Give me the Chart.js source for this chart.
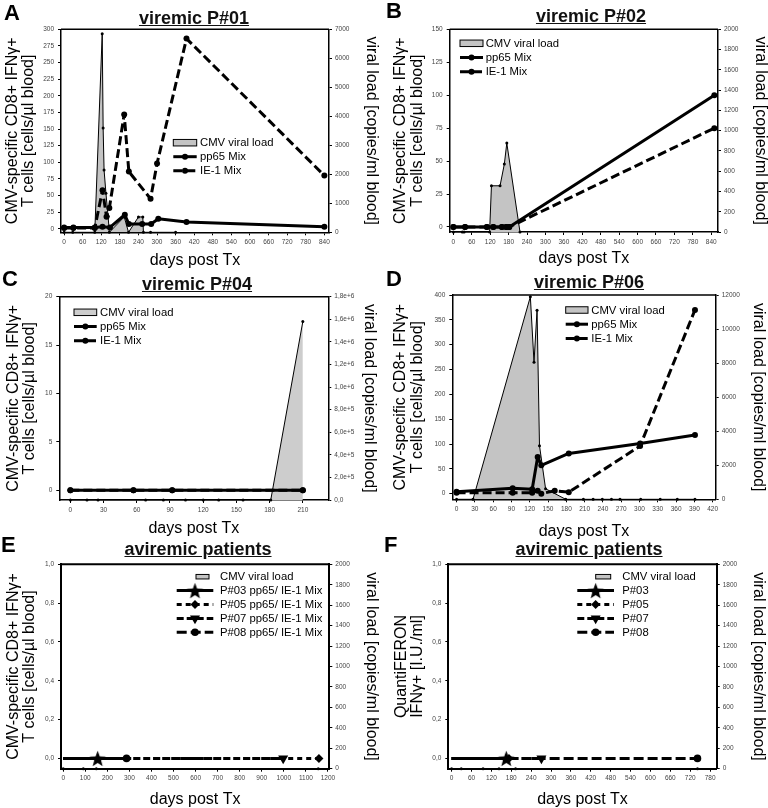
<!DOCTYPE html>
<html>
<head>
<meta charset="utf-8">
<script src="https://cdn.jsdelivr.net/npm/chart.js@4.4.1/dist/chart.umd.min.js"></script>
<style>
html, body { margin: 0; padding: 0; background: #fff; }
#fig { position: relative; width: 768px; height: 808px; overflow: hidden; font-family: 'Liberation Sans', Arial, sans-serif; }
#fig canvas { position: absolute; }
.letter { position: absolute; font-weight: bold; font-size: 22px; line-height: 22px; color: #000; }
.ttl { position: absolute; width: 240px; text-align: center; font-weight: bold; font-size: 18px; line-height: 18px; text-decoration: underline; color: #111; }
</style>
</head>
<body>
<div id="fig">
  <canvas id="cA" width="384" height="270" style="left:0;top:0"></canvas>
  <canvas id="cB" width="384" height="270" style="left:384px;top:0"></canvas>
  <canvas id="cC" width="384" height="270" style="left:0;top:270px"></canvas>
  <canvas id="cD" width="384" height="270" style="left:384px;top:270px"></canvas>
  <canvas id="cE" width="384" height="268" style="left:0;top:540px"></canvas>
  <canvas id="cF" width="384" height="268" style="left:384px;top:540px"></canvas>

  <div class="letter" style="left:4px;top:2px">A</div>
  <div class="letter" style="left:386px;top:0px">B</div>
  <div class="letter" style="left:2px;top:268px">C</div>
  <div class="letter" style="left:386px;top:268px">D</div>
  <div class="letter" style="left:1px;top:534px">E</div>
  <div class="letter" style="left:384px;top:534px">F</div>

  <div class="ttl" style="left:74px;top:9px">viremic P#01</div>
  <div class="ttl" style="left:471px;top:7px">viremic P#02</div>
  <div class="ttl" style="left:77px;top:275px">viremic P#04</div>
  <div class="ttl" style="left:469px;top:273px">viremic P#06</div>
  <div class="ttl" style="left:78px;top:540px">aviremic patients</div>
  <div class="ttl" style="left:469px;top:540px">aviremic patients</div>
</div>

<script>
const FONT = "'Liberation Sans', Arial, sans-serif";

// ---------- A: viremic P#01 ----------
const aVlDays   = [0, 28, 99, 123, 126, 129, 135, 142, 146, 194, 208, 240, 254, 256, 279, 360];
const aVl       = [0, 0, 0, 6850, 3600, 2150, 1350, 550, 0, 530, 0, 530, 530, 0, 0, 0];
const aPp65Days = [0, 30, 99, 124, 148, 196, 209, 252, 281, 304, 395, 840];
const aPp65     = [2, 2, 2, 3, 2, 21, 7, 7, 7, 15, 10, 3];
const aIe1Days  = [0, 30, 99, 124, 137, 146, 194, 209, 279, 300, 395, 840];
const aIe1      = [1, 1, 1, 58, 18, 31, 172, 86, 45, 98, 286, 80];

// ---------- B: viremic P#02 ----------
const bVlDays   = [0, 29, 35, 118, 124, 152, 166, 174, 217];
const bVl       = [0, 0, 0, 0, 456, 456, 670, 877, 0];
const bTDays    = [0, 38, 109, 130, 158, 172, 182, 850];
const bPp65     = [0, 0, 0, 0, 0, 0, 0, 100];
const bIe1      = [0, 0, 0, 0, 0, 0, 0, 75];

// ---------- C: viremic P#04 ----------
const cVlDays   = [0, 15, 25, 68, 84, 104, 120, 134, 156, 181, 210];
const cVl       = [0, 0, 0, 0, 0, 0, 0, 0, 0, 0, 1580000];
const cTDays    = [0, 57, 92, 210];
const cPp65     = [0, 0, 0, 0];
const cIe1      = [0, 0, 0, 0];

// ---------- D: viremic P#06 ----------
const dVlDays   = [0, 27, 121, 127, 132, 136, 146, 179, 208, 224, 239, 254, 268, 302, 334, 362, 391];
const dVl       = [0, 0, 11900, 8050, 11100, 3150, 620, 0, 0, 0, 0, 0, 0, 0, 0, 0, 0];
const dPp65Days = [0, 92, 124, 133, 139, 184, 301, 391];
const dPp65     = [4, 11, 9, 74, 57, 81, 101, 118];
const dIe1Days  = [0, 92, 124, 133, 139, 161, 184, 301, 391];
const dIe1      = [2, 2, 2, 6, 0, 6, 3, 96, 370];

// ---------- E: aviremic, CD8+ IFNg+ ----------
const eVlDays   = [0, 91, 150, 1156];
const eVl       = [0, 0, 0, 0];
const eP03Days  = [0, 156];
const eP05Days  = [0, 1159];
const eP07Days  = [0, 997];
const eP08Days  = [0, 287];
const eZero     = [0, 0];

// ---------- F: aviremic, QuantiFERON ----------
const fVlDays   = [0, 29, 95, 143, 193, 742];
const fVl       = [0, 0, 0, 0, 0, 0];
const fP03Days  = [0, 165];
const fP05Days  = [0, 173];
const fP07Days  = [0, 271];
const fP08Days  = [0, 742];
const fZero     = [0, 0];

// ---------- tick values / labels ----------
const days840  = [0, 60, 120, 180, 240, 300, 360, 420, 480, 540, 600, 660, 720, 780, 840];
const days210  = [0, 30, 60, 90, 120, 150, 180, 210];
const days420  = [0, 30, 60, 90, 120, 150, 180, 210, 240, 270, 300, 330, 360, 390, 420];
const days1200 = [0, 100, 200, 300, 400, 500, 600, 700, 800, 900, 1000, 1100, 1200];
const days780  = [0, 60, 120, 180, 240, 300, 360, 420, 480, 540, 600, 660, 720, 780];
const aLeftTicks  = [0, 25, 50, 75, 100, 125, 150, 175, 200, 225, 250, 275, 300];
const aRightTicks = [0, 1000, 2000, 3000, 4000, 5000, 6000, 7000];
const bLeftTicks  = [0, 25, 50, 75, 100, 125, 150];
const bRightTicks = [0, 200, 400, 600, 800, 1000, 1200, 1400, 1600, 1800, 2000];
const cLeftTicks  = [0, 5, 10, 15, 20];
const cRightTicks = [0, 2e5, 4e5, 6e5, 8e5, 1e6, 1.2e6, 1.4e6, 1.6e6, 1.8e6];
const cRightLabels = ['0,0', '2,0e+5', '4,0e+5', '6,0e+5', '8,0e+5', '1,0e+6', '1,2e+6', '1,4e+6', '1,6e+6', '1,8e+6'];
const dLeftTicks  = [0, 50, 100, 150, 200, 250, 300, 350, 400];
const dRightTicks = [0, 2000, 4000, 6000, 8000, 10000, 12000];
const efLeftTicks  = [0, 0.2, 0.4, 0.6, 0.8, 1.0];
const efLeftLabels = ['0,0', '0,2', '0,4', '0,6', '0,8', '1,0'];
const efRightTicks = [0, 200, 400, 600, 800, 1000, 1200, 1400, 1600, 1800, 2000];

const cd8Title = ['CMV-specific CD8+ IFNγ+', 'T cells [cells/µl blood]'];
const qfTitle  = ['QuantiFERON', 'IFNγ+ [I.U./ml]'];
const vlTitle  = 'viral load [copies/ml blood]';

function pts(xs, ys) {
  return xs.map((x, i) => ({ x: x, y: ys[i] }));
}

function starImage(r) {
  const c = document.createElement('canvas');
  c.width = c.height = Math.ceil(r * 2 + 2);
  const g = c.getContext('2d');
  g.translate(c.width / 2, c.height / 2 + r * 0.1);
  g.beginPath();
  for (let i = 0; i < 10; i++) {
    const rr = i % 2 ? r * 0.42 : r;
    const a = -Math.PI / 2 + i * Math.PI / 5;
    g.lineTo(rr * Math.cos(a), rr * Math.sin(a));
  }
  g.closePath();
  g.fillStyle = '#000';
  g.fill();
  return c;
}
const STAR = starImage(8.5);

function vlSet(xs, ys, fillColor) {
  return {
    label: 'CMV viral load', data: pts(xs, ys), yAxisID: 'y2', order: 9, fill: 'origin',
    backgroundColor: fillColor || '#c4c4c4', borderColor: '#000', borderWidth: 1,
    pointRadius: 1.5, pointBackgroundColor: '#000', pointBorderWidth: 0,
    tension: 0, clip: false
  };
}

function lineSet(label, xs, ys, dash, style, r, order) {
  return {
    label: label, data: pts(xs, ys), yAxisID: 'y', order: order, fill: false,
    borderColor: '#000', borderWidth: 3, borderDash: dash, borderJoinStyle: 'round',
    pointStyle: style, pointRadius: r, pointRotation: style === 'triangle' ? 180 : 0,
    pointBackgroundColor: '#000', pointBorderColor: '#000', pointBorderWidth: 0,
    tension: 0, clip: false
  };
}

// top edge of the plot frame
const framePlugin = {
  id: 'frame',
  beforeDatasetsDraw(chart, args, opts) {
    const { ctx, chartArea: a } = chart;
    ctx.save();
    ctx.strokeStyle = '#000';
    ctx.lineWidth = opts.width || 1.5;
    ctx.beginPath();
    ctx.moveTo(a.left, a.top);
    ctx.lineTo(a.right, a.top);
    ctx.stroke();
    ctx.restore();
  }
};

function drawMarker(ctx, style, r, x, y) {
  if (!r) return;
  if (style instanceof HTMLCanvasElement) {
    ctx.drawImage(style, x - style.width / 2, y - style.height / 2);
    return;
  }
  ctx.fillStyle = '#000';
  ctx.beginPath();
  if (style === 'rectRot') {
    ctx.moveTo(x, y - r); ctx.lineTo(x + r, y); ctx.lineTo(x, y + r); ctx.lineTo(x - r, y);
  } else if (style === 'triangle') {
    ctx.moveTo(x - r * 0.866, y - r / 2); ctx.lineTo(x + r * 0.866, y - r / 2); ctx.lineTo(x, y + r);
  } else {
    ctx.arc(x, y, r, 0, Math.PI * 2);
  }
  ctx.closePath();
  ctx.fill();
}

// legend: line + marker (or grey box) followed by the label
const miniLegend = {
  id: 'miniLegend',
  afterDraw(chart, args, o) {
    const ctx = chart.ctx;
    ctx.save();
    ctx.font = '11.3px ' + FONT;
    ctx.textBaseline = 'middle';
    chart.data.datasets.forEach((ds, i) => {
      const y = o.y + i * o.rowH;
      if (ds.fill) {
        const rx = o.rectX !== undefined ? o.rectX : o.x;
        const rw = o.rectW || o.w;
        const rh = o.rectH || 6.5;
        ctx.fillStyle = ds.backgroundColor;
        ctx.fillRect(rx, y - rh / 2, rw, rh);
        ctx.strokeStyle = '#000';
        ctx.lineWidth = 1;
        ctx.strokeRect(rx, y - rh / 2, rw, rh);
      } else {
        ctx.strokeStyle = '#000';
        ctx.lineWidth = ds.borderWidth;
        ctx.setLineDash(ds.borderDash || []);
        ctx.beginPath();
        ctx.moveTo(o.x, y);
        ctx.lineTo(o.x + o.w, y);
        ctx.stroke();
        ctx.setLineDash([]);
        const r = Array.isArray(ds.pointRadius) ? Math.max(...ds.pointRadius) : ds.pointRadius;
        drawMarker(ctx, ds.pointStyle, r, o.x + o.w / 2, y);
      }
      ctx.fillStyle = '#000';
      ctx.fillText(ds.label, o.textX, y + 0.5);
    });
    ctx.restore();
  }
};

function makePanel(id, p) {
  const tickFont = { size: 6.5, family: FONT };
  const grid = { drawOnChartArea: false, color: '#000', tickLength: 3, lineWidth: 1 };
  const border = { color: '#000', width: p.bw };
  new Chart(document.getElementById(id), {
    type: 'line',
    data: { datasets: p.datasets },
    options: {
      responsive: false,
      animation: false,
      devicePixelRatio: 1,
      layout: { padding: { top: p.box[1], left: 0, right: 0, bottom: 0 } },
      plugins: {
        legend: { display: false },
        tooltip: { enabled: false },
        frame: { width: p.bw },
        miniLegend: p.legend
      },
      scales: {
        x: {
          type: 'linear', min: p.xRange[0], max: p.xRange[1],
          afterBuildTicks: s => { s.ticks = p.xTicks.map(v => ({ value: v })); },
          afterFit: s => { s.height = p.H - p.box[3]; },
          ticks: { font: tickFont, color: '#444', padding: 3, maxRotation: 0, autoSkip: false, callback: v => String(v) },
          grid: grid, border: border,
          title: { display: true, text: 'days post Tx', color: '#000',
                   font: { size: 16, family: FONT, lineHeight: 1 }, padding: { top: 0, bottom: p.xTitlePad } }
        },
        y: {
          position: 'left', min: p.yRange[0], max: p.yRange[1],
          afterBuildTicks: s => { s.ticks = p.yTicks.map(v => ({ value: v })); },
          afterFit: s => { s.width = p.box[0]; },
          ticks: { font: tickFont, color: '#444', padding: 4, autoSkip: false,
                   callback: (v, i) => p.yLabels ? p.yLabels[i] : String(v) },
          grid: grid, border: border,
          title: { display: true, text: p.yTitle, color: '#000',
                   font: { size: 16, family: FONT, lineHeight: 1.05 }, padding: { top: p.yTitlePad, bottom: 0 } }
        },
        y2: {
          position: 'right', min: p.y2Range[0], max: p.y2Range[1],
          afterBuildTicks: s => { s.ticks = p.y2Ticks.map(v => ({ value: v })); },
          afterFit: s => { s.width = 384 - p.box[2]; },
          ticks: { font: tickFont, color: '#444', padding: 3, autoSkip: false,
                   callback: (v, i) => p.y2Labels ? p.y2Labels[i] : String(v) },
          grid: grid, border: border,
          title: { display: true, text: vlTitle, color: '#000',
                   font: { size: 16, family: FONT, lineHeight: 1 }, padding: { top: p.y2TitlePad, bottom: 0 } }
        }
      }
    },
    plugins: [framePlugin, miniLegend]
  });
}

const IE_DASH = [9, 4];

makePanel('cA', {
  H: 270, box: [61, 29.3, 329, 232.3], bw: 1.5,
  xRange: [-10, 855], xTicks: days840,
  yRange: [-5.4, 300], yTicks: aLeftTicks, yTitle: cd8Title,
  y2Range: [0, 7000], y2Ticks: aRightTicks,
  xTitlePad: 1.4, yTitlePad: 3.8, y2TitlePad: 4.4,
  legend: { x: 173.3, w: 23.4, textX: 200, y: 142.7, rowH: 14 },
  datasets: [
    vlSet(aVlDays, aVl),
    lineSet('pp65 Mix', aPp65Days, aPp65, [], 'circle', 3, 1),
    lineSet('IE-1 Mix', aIe1Days, aIe1, IE_DASH, 'circle', 3, 2)
  ]
});

makePanel('cB', {
  H: 270, box: [65.7, 29.3, 334, 232], bw: 1.5,
  xRange: [-12, 862], xTicks: days840,
  yRange: [-3.8, 150], yTicks: bLeftTicks, yTitle: cd8Title,
  y2Range: [0, 2000], y2Ticks: bRightTicks,
  xTitlePad: 3.3, yTitlePad: 8.2, y2TitlePad: 0,
  legend: { x: 76, w: 23, textX: 101.7, y: 43.3, rowH: 14.2 },
  datasets: [
    vlSet(bVlDays, bVl),
    lineSet('pp65 Mix', bTDays, bPp65, [], 'circle', 3, 1),
    lineSet('IE-1 Mix', bTDays, bIe1, IE_DASH, 'circle', 3, 2)
  ]
});

makePanel('cC', {
  H: 270, box: [59.3, 26.7, 328.3, 230], bw: 1.5,
  xRange: [-10, 233], xTicks: days210,
  yRange: [-1, 20], yTicks: cLeftTicks, yTitle: cd8Title,
  y2Range: [0, 1.8e6], y2Ticks: cRightTicks, y2Labels: cRightLabels,
  xTitlePad: 3.9, yTitlePad: 4.8, y2TitlePad: 6.4,
  legend: { x: 74, w: 22.7, textX: 100, y: 42.3, rowH: 14.2 },
  datasets: [
    vlSet(cVlDays, cVl, '#cdcdcd'),
    lineSet('pp65 Mix', cTDays, cPp65, [], 'circle', 3, 1),
    lineSet('IE-1 Mix', cTDays, cIe1, IE_DASH, 'circle', 3, 2)
  ]
});

makePanel('cD', {
  H: 270, box: [68.3, 25, 331.7, 229.3], bw: 1.5,
  xRange: [-7, 425], xTicks: days420,
  yRange: [-11.3, 400], yTicks: dLeftTicks, yTitle: cd8Title,
  y2Range: [0, 12000], y2Ticks: dRightTicks,
  xTitlePad: 0, yTitlePad: 8.2, y2TitlePad: 1.4,
  legend: { x: 181.7, w: 22.3, textX: 207.3, y: 40, rowH: 14.2 },
  datasets: [
    vlSet(dVlDays, dVl),
    lineSet('pp65 Mix', dPp65Days, dPp65, [], 'circle', 3, 1),
    lineSet('IE-1 Mix', dIe1Days, dIe1, IE_DASH, 'circle', 3, 2)
  ]
});

makePanel('cE', {
  H: 268, box: [61, 24.3, 329.3, 228.7], bw: 2,
  xRange: [-10, 1206], xTicks: days1200,
  yRange: [-0.053, 1], yTicks: efLeftTicks, yLabels: efLeftLabels, yTitle: cd8Title,
  y2Range: [0, 2000], y2Ticks: efRightTicks,
  xTitlePad: 0.5, yTitlePad: 4.8, y2TitlePad: 4.4,
  legend: { x: 176.7, w: 36.6, textX: 220, y: 36.7, rowH: 13.9, rectX: 196, rectW: 13, rectH: 4.5 },
  datasets: [
    vlSet(eVlDays, eVl),
    lineSet('P#03 pp65/ IE-1 Mix', eP03Days, eZero, [], STAR, [0, 8], 1),
    lineSet('P#05 pp65/ IE-1 Mix', eP05Days, eZero, [5, 4], 'rectRot', [0, 4.5], 2),
    lineSet('P#07 pp65/ IE-1 Mix', eP07Days, eZero, [7, 3], 'triangle', [0, 5.8], 3),
    lineSet('P#08 pp65/ IE-1 Mix', eP08Days, eZero, [10, 4], 'circle', [0, 3.8], 4)
  ]
});

makePanel('cF', {
  H: 268, box: [64.3, 24.3, 332.7, 228.7], bw: 2,
  xRange: [-10, 800], xTicks: days780,
  yRange: [-0.053, 1], yTicks: efLeftTicks, yLabels: efLeftLabels, yTitle: qfTitle,
  y2Range: [0, 2000], y2Ticks: efRightTicks,
  xTitlePad: 0.5, yTitlePad: 8.8, y2TitlePad: 1.4,
  legend: { x: 193.3, w: 36.7, textX: 238.3, y: 36.7, rowH: 13.9, rectX: 211.7, rectW: 15, rectH: 4.5 },
  datasets: [
    vlSet(fVlDays, fVl),
    lineSet('P#03', fP03Days, fZero, [], STAR, [0, 8], 1),
    lineSet('P#05', fP05Days, fZero, [5, 4], 'rectRot', [0, 4.5], 2),
    lineSet('P#07', fP07Days, fZero, [7, 3], 'triangle', [0, 5.8], 3),
    lineSet('P#08', fP08Days, fZero, [10, 4], 'circle', [0, 3.8], 4)
  ]
});
</script>
</body>
</html>
